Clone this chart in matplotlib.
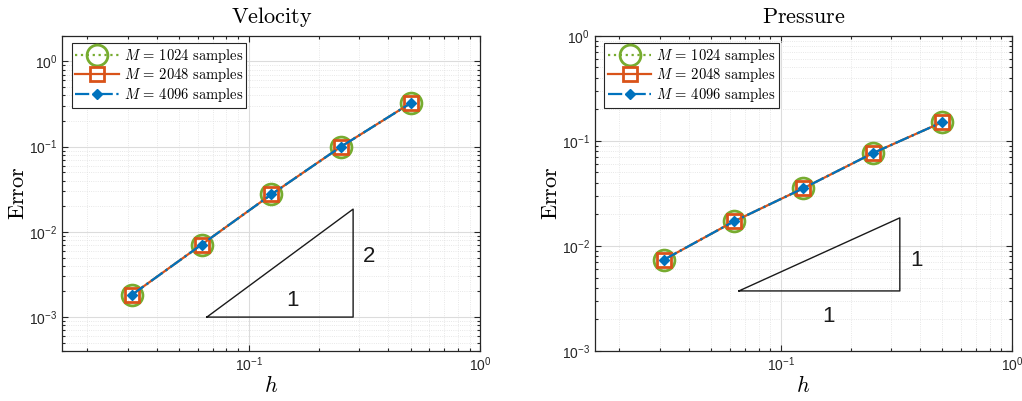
import matplotlib
matplotlib.use("Agg")
import matplotlib.pyplot as plt
from matplotlib.ticker import LogLocator, FuncFormatter, NullFormatter
import numpy as np

plt.rcParams['font.family'] = ['Liberation Sans', 'DejaVu Sans']
plt.rcParams['mathtext.fontset'] = 'cm'

# ---- data ----
h = [1/32, 1/16, 1/8, 1/4, 1/2]
vel_1024 = [1.83e-3, 7.1e-3, 2.75e-2, 0.100, 0.324]
vel_2048 = [1.83e-3, 7.1e-3, 2.75e-2, 0.100, 0.324]
vel_4096 = [1.83e-3, 7.1e-3, 2.75e-2, 0.100, 0.324]
pres_1024 = [7.42e-3, 1.71e-2, 3.54e-2, 7.64e-2, 0.151]
pres_2048 = [7.42e-3, 1.71e-2, 3.54e-2, 7.64e-2, 0.151]
pres_4096 = [7.42e-3, 1.71e-2, 3.54e-2, 7.64e-2, 0.151]
labels = [r'$M\,=\,1024\ \mathrm{samples}$', r'$M\,=\,2048\ \mathrm{samples}$',
          r'$M\,=\,4096\ \mathrm{samples}$']
titles = ['Velocity', 'Pressure']

# slope triangles (x0, x1, y0, y1) and labels
tri_vel = dict(x=[0.0658, 0.282], y=[1.0e-3, 1.85e-2],
               lab_h=('1', 0.154, 1.57e-3), lab_v=('2', 0.331, 5.08e-3))
tri_pres = dict(x=[0.0658, 0.327], y=[3.73e-3, 1.85e-2],
                lab_h=('1', 0.160, 2.13e-3), lab_v=('1', 0.387, 7.31e-3))

green, orange, blue = '#77AC30', '#D95319', '#0072BD'

fig = plt.figure(figsize=(10.22, 4.01), dpi=100)
ax1 = fig.add_axes([0.061, 0.1247, 0.409, 0.786])
ax2 = fig.add_axes([0.5819, 0.1247, 0.4083, 0.786])

def fmt(v, pos):
    e = int(round(np.log10(v)))
    return r'$\mathregular{10^{%d}}$' % e

def setup(ax, series, ylim, title, tri):
    s1, s2, s3 = series
    ax.plot(h, s1, ':', color=green, lw=1.6, marker='o', ms=15, mfc='none',
            mec=green, mew=2.0, label=labels[0], zorder=3)
    ax.plot(h, s2, '-', color=orange, lw=1.6, marker='s', ms=10, mfc='none',
            mec=orange, mew=2.0, label=labels[1], zorder=4)
    ax.plot(h, s3, '-.', color=blue, lw=1.6, marker='D', ms=5, mfc=blue,
            mec=blue, label=labels[2], zorder=5)
    tx, ty = tri['x'], tri['y']
    ax.plot([tx[0], tx[1], tx[1], tx[0]], [ty[0], ty[0], ty[1], ty[0]],
            color='#1a1a1a', lw=1.0, zorder=2)
    for key in ('lab_h', 'lab_v'):
        t, x, y = tri[key]
        ax.text(x, y, t, fontsize=16, ha='center', va='center', color='#1a1a1a')
    ax.set_xscale('log')
    ax.set_yscale('log')
    ax.set_xlim(1/64, 1)
    ax.set_ylim(*ylim)
    ax.xaxis.set_major_locator(LogLocator(base=10, numticks=10))
    ax.yaxis.set_major_locator(LogLocator(base=10, numticks=10))
    ax.xaxis.set_minor_locator(LogLocator(base=10, subs=np.arange(2, 10), numticks=20))
    ax.yaxis.set_minor_locator(LogLocator(base=10, subs=np.arange(2, 10), numticks=20))
    ax.xaxis.set_major_formatter(FuncFormatter(fmt))
    ax.yaxis.set_major_formatter(FuncFormatter(fmt))
    ax.xaxis.set_minor_formatter(NullFormatter())
    ax.yaxis.set_minor_formatter(NullFormatter())
    ax.tick_params(which='both', direction='in', top=True, right=True,
                   labelsize=10, colors='#262626', width=0.8)
    ax.tick_params(which='major', length=4)
    ax.tick_params(which='minor', length=2.5)
    ax.grid(True, which='major', color='#dcdcdc', lw=0.8, ls='-', zorder=0)
    ax.grid(True, which='minor', color='#e0e0e0', lw=0.6, ls=':', zorder=0)
    ax.set_axisbelow(True)
    for sp in ax.spines.values():
        sp.set_color('#262626')
        sp.set_linewidth(0.9)
    ax.set_title(r'$\mathrm{%s}$' % title, fontsize=16, pad=9)
    ax.set_xlabel(r'$h$', fontsize=16, labelpad=1)
    ax.set_ylabel(r'$\mathrm{Error}$', fontsize=16, labelpad=0)
    leg = ax.legend(loc='upper left', fontsize=10.5, fancybox=False, framealpha=1,
                    edgecolor='#262626', borderpad=0.25, handlelength=3.0,
                    labelspacing=0.1, handletextpad=0.3, borderaxespad=0.3,
                    bbox_to_anchor=(0.012, 0.99))
    leg.get_frame().set_linewidth(0.8)

setup(ax1, (vel_1024, vel_2048, vel_4096), (4e-4, 2), titles[0], tri_vel)
setup(ax2, (pres_1024, pres_2048, pres_4096), (1e-3, 1), titles[1], tri_pres)

fig.savefig('out.png', dpi=100)
